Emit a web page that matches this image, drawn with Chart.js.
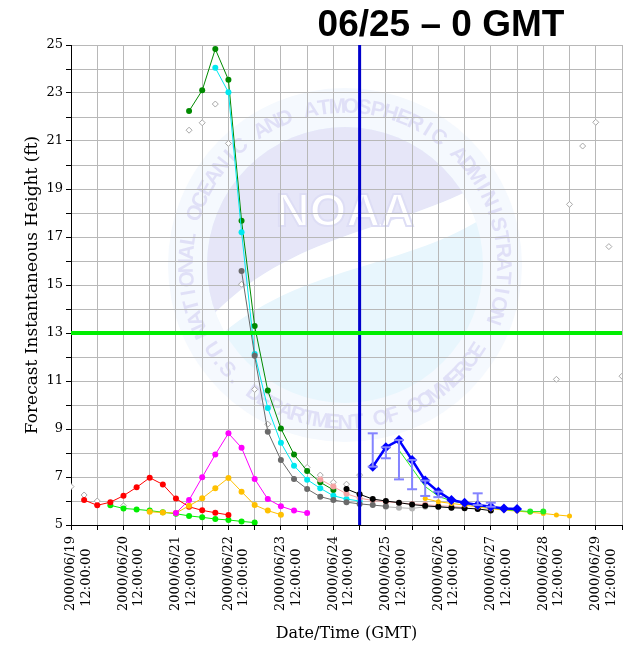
<!DOCTYPE html>
<html>
<head>
<meta charset="utf-8">
<script src="https://cdn.jsdelivr.net/npm/chart.js@4.4.1/dist/chart.umd.min.js"></script>
<style>
html,body{margin:0;padding:0;background:#fff;}
canvas{display:block;}
</style>
</head>
<body>
<canvas id="c" width="629" height="645"></canvas>
<script>
// ---- x values are hours after 2000/06/19 00:00 GMT ----
const xDayLabels = ['2000/06/19','2000/06/20','2000/06/21','2000/06/22','2000/06/23','2000/06/24','2000/06/25','2000/06/26','2000/06/27','2000/06/28','2000/06/29'];
const yTickLabels = [5,7,9,11,13,15,17,19,21,23,25];
const titleText = '06/25 \u2013 0 GMT';

const redHours = [18,24,30,36,42,48,54,60,66,72,78,84];
const redVals  = [6.04,5.82,5.95,6.22,6.57,6.97,6.69,6.10,5.76,5.61,5.51,5.42];

const limeHours = [30,36,42,48,54,60,66,72,78,84,90,96];
const limeVals  = [5.82,5.69,5.65,5.60,5.53,5.47,5.38,5.32,5.25,5.21,5.15,5.10];

const orangeHours = [48,54,60,66,72,78,84,90,96,102,108];
const orangeVals  = [5.55,5.52,5.50,5.80,6.11,6.53,6.96,6.39,5.83,5.60,5.43];

const magentaHours = [60,66,72,78,84,90,96,102,108,114,120];
const magentaVals  = [5.50,6.04,6.99,7.94,8.82,8.22,6.92,6.08,5.78,5.60,5.50];

const greenHours = [66,72,78,84,90,96,102,108,114,120,126,132];
const greenVals  = [22.25,23.11,24.83,23.55,17.68,13.29,10.60,9.02,7.94,7.25,6.78,6.46];

const cyanHours = [78,84,90,96,102,108,114,120,126,132,138,144];
const cyanVals  = [24.05,23.03,17.20,12.13,9.87,8.43,7.47,6.89,6.53,6.22,6.08,6.00];

const grayHours = [90,96,102,108,114,120,126,132,138,144,150,156];
const grayVals  = [15.58,12.05,8.89,7.71,6.92,6.50,6.18,6.04,5.95,5.88,5.83,5.78];

const lightGrayHours = [156,162,168,174,180,186];
const lightGrayVals  = [5.76,5.72,5.69,5.76,5.76,5.72];

const diamondHours = [12,18,24,36,66,72,78,84,90,96,102,120,126,132,138,144,234,240,246,252,258,264];
const diamondVals  = [6.60,6.25,6.00,5.80,21.45,21.76,22.54,20.90,15.03,10.65,9.20,7.40,7.08,6.78,6.70,7.08,11.07,18.36,20.79,21.78,16.60,11.20];

const blackHours = [138,144,150,156,162,168,174,180,186,192,198,204];
const blackVals  = [6.50,6.28,6.08,6.00,5.93,5.85,5.80,5.76,5.72,5.70,5.67,5.60];

const salmonHours = [126,132,138,144,150,156,162,168,174,180,186,192];
const salmonVals  = [6.90,6.60,6.30,6.12,6.02,5.97,5.92,5.88,5.85,5.80,5.78,5.72];

const limeFutHours = [162,168,174,180,186,192,198,204,210,216,222,228];
const limeFutVals  = [8.12,7.36,6.60,6.20,6.00,5.90,5.80,5.72,5.65,5.60,5.56,5.56];

const orangeFutHours = [174,180,186,192,198,204,210,216,222,228,234,240];
const orangeFutVals  = [6.10,5.97,5.90,5.83,5.75,5.68,5.62,5.58,5.53,5.48,5.42,5.37];

const blueHours = [150,156,162,168,174,180,186,192,198,204,210,216];
const blueVals  = [7.43,8.24,8.54,7.71,6.85,6.39,6.04,5.93,5.83,5.76,5.69,5.67];

const errHours = [150,156,162,168,174,180,198,204];
const errLow   = [7.43,7.78,6.90,6.49,6.21,6.16,5.83,5.76];
const errHigh  = [8.82,8.24,8.54,7.71,6.85,6.39,6.32,5.93];

const floodStage = 13;
const floodHours = [12,264];
const nowHour = 144;
const xMin = 12, xMax = 264, yMin = 5, yMax = 25;

function pts(h, v){ return h.map((x,i)=>({x:x, y:v[i]})); }
const errPts = [];
errHours.forEach((h,i)=>{ errPts.push({x:h,y:errLow[i]}); errPts.push({x:h,y:errHigh[i]}); errPts.push({x:h,y:null}); });

function lineDS(label, data, color, opts){
  return Object.assign({label, data, borderColor:color, backgroundColor:color,
    pointBackgroundColor:color, pointBorderColor:color, borderWidth:1,
    pointRadius:3, pointBorderWidth:0, pointHoverRadius:3, showLine:true, fill:false, tension:0}, opts||{});
}

const datasets = [
  lineDS('flood', pts(floodHours,[floodStage,floodStage]), '#00ee00', {borderWidth:4, pointRadius:0}),
  lineDS('errors', errPts, '#8484ff', {borderWidth:2, pointStyle:'line', pointRadius:5, pointBorderWidth:2, spanGaps:false}),
  lineDS('current', pts(blueHours,blueVals), '#0000ff', {borderWidth:2.5, pointStyle:'rectRot', pointRadius:5}),
  lineDS('now', pts([nowHour,nowHour],[yMin,yMax]), '#0000cc', {borderWidth:3, pointRadius:0}),
  lineDS('limeFut', pts(limeFutHours,limeFutVals), '#22ee22', {pointRadius: c => c.dataIndex >= 10 ? 3 : 0}),
  lineDS('orangeFut', pts(orangeFutHours,orangeFutVals), '#ffc000', {pointRadius:2.5}),
  lineDS('black', pts(blackHours,blackVals), '#000000'),
  lineDS('gray', pts(grayHours,grayVals), '#6a6a6a'),
  lineDS('lightgray', pts(lightGrayHours,lightGrayVals), '#b4b4b4'),
  lineDS('salmon', pts(salmonHours,salmonVals), '#f4a4a4'),
  lineDS('cyan', pts(cyanHours,cyanVals), '#00e8f0'),
  lineDS('green', pts(greenHours,greenVals), '#008a00'),
  lineDS('magenta', pts(magentaHours,magentaVals), '#ff00ff'),
  lineDS('orange', pts(orangeHours,orangeVals), '#ffc000'),
  lineDS('red', pts(redHours,redVals), '#ff0000'),
  lineDS('lime', pts(limeHours,limeVals), '#00ee00'),
  {label:'obs', data: pts(diamondHours,diamondVals), showLine:false, pointStyle:'rectRot',
   pointRadius:3, pointBorderWidth:1, pointBorderColor:'#a8a8a8', pointBackgroundColor:'#ffffff',
   borderColor:'#a8a8a8', backgroundColor:'#ffffff'}
];

function arcText(ctx, text, cx, cy, r, a0, a1, top){
  const n = text.length;
  for (let i=0;i<n;i++){
    const a = a0 + (a1-a0)*(i+0.5)/n;
    ctx.save();
    ctx.translate(cx + r*Math.cos(a), cy + r*Math.sin(a));
    ctx.rotate(top ? a + Math.PI/2 : a - Math.PI/2);
    ctx.fillText(text[i], 0, 0);
    ctx.restore();
  }
}

const backdrop = {
  id:'backdrop',
  beforeDraw(chart){
    const ctx = chart.ctx;
    ctx.save();
    ctx.fillStyle = '#ffffff';
    ctx.fillRect(0,0,chart.width,chart.height);
    const cx = 345, cy = 265;
    ctx.beginPath(); ctx.arc(cx,cy,177,0,Math.PI*2); ctx.fillStyle='#f5f9fe'; ctx.fill();
    ctx.save();
    ctx.beginPath(); ctx.arc(cx,cy,138,0,Math.PI*2); ctx.clip();
    ctx.fillStyle='#e8f6fd'; ctx.fillRect(cx-140,cy-140,280,280);
    ctx.beginPath();
    ctx.moveTo(cx-150, cy+70);
    ctx.bezierCurveTo(cx-60, cy-40, cx+60, cy-30, cx+150, cy-90);
    ctx.lineTo(cx+150, cy-150); ctx.lineTo(cx-150, cy-150); ctx.closePath();
    ctx.fillStyle='#e6e6f8'; ctx.fill();
    ctx.beginPath();
    ctx.moveTo(cx-150, cy+95);
    ctx.bezierCurveTo(cx-60, cy-5, cx+60, cy+10, cx+150, cy-55);
    ctx.lineTo(cx+150, cy-90);
    ctx.bezierCurveTo(cx+60, cy-30, cx-60, cy-40, cx-150, cy+70);
    ctx.closePath();
    ctx.fillStyle='#ffffff'; ctx.fill();
    ctx.restore();
    ctx.font = 'bold 47px "Liberation Sans"';
    ctx.textAlign='center'; ctx.textBaseline='middle';
    ctx.fillStyle='#ffffff'; ctx.strokeStyle='#dedef5'; ctx.lineWidth=2;
    ctx.fillText('NOAA', cx, cy-52); ctx.strokeText('NOAA', cx, cy-52);
    ctx.fillStyle='#e0e0f7';
    ctx.font = 'bold 21px "Liberation Sans"';
    arcText(ctx, 'NATIONAL OCEANIC AND ATMOSPHERIC ADMINISTRATION', cx, cy, 158, Math.PI*0.85, Math.PI*2.12, true);
    arcText(ctx, 'U.S. DEPARTMENT OF COMMERCE', cx, cy, 158, Math.PI*0.83, Math.PI*0.17, false);
    ctx.restore();
  },
  afterDraw(chart){
    const ctx = chart.ctx;
    ctx.save();
    ctx.font = 'bold 37px "Liberation Sans"';
    ctx.fillStyle = '#000';
    ctx.textAlign='center'; ctx.textBaseline='alphabetic';
    ctx.fillText(titleText, 441, 36);
    ctx.restore();
  }
};

const serif = '"DejaVu Serif", serif';
new Chart(document.getElementById('c'), {
  type:'line',
  data:{datasets},
  plugins:[backdrop],
  options:{
    responsive:false, animation:false,
    layout:{padding:{top:45, right:6, left:0, bottom:0}},
    plugins:{legend:{display:false}, tooltip:{enabled:false}},
    scales:{
      x:{type:'linear', min:xMin, max:xMax,
        afterFit(s){ s.height = 120; s.paddingLeft = 0; s.paddingRight = 0; },
        grid:{color:'#b8b8b8', lineWidth:1, tickColor:'#000', tickLength:5},
        border:{color:'#000', width:1},
        ticks:{stepSize:12, autoSkip:false, maxRotation:90, minRotation:90, padding:6,
          color:'#000', font:{family:serif, size:13}, lineHeight:1.15,
          callback(v){ const k=(v-12)/24; return Number.isInteger(k) && xDayLabels[k] ? [xDayLabels[k], '12:00:00   '] : ''; }},
        title:{display:true, text:'Date/Time (GMT)', color:'#000', font:{family:serif, size:16}, padding:{top:0,bottom:2}}
      },
      y:{type:'linear', min:yMin, max:yMax,
        afterFit(s){ s.width = 71; s.paddingTop = 0; s.paddingBottom = 0; },
        grid:{color:'#b8b8b8', lineWidth:1, tickColor:'#000', tickLength:5},
        border:{color:'#000', width:1},
        ticks:{stepSize:1, autoSkip:false, padding:3, color:'#000', font:{family:serif, size:13},
          callback(v){ return yTickLabels.includes(v) ? String(v) : ''; }},
        title:{display:true, text:'Forecast Instantaneous Height (ft)', color:'#000', font:{family:serif, size:17}, padding:{top:22,bottom:0}}
      }
    }
  }
});
</script>
</body>
</html>
